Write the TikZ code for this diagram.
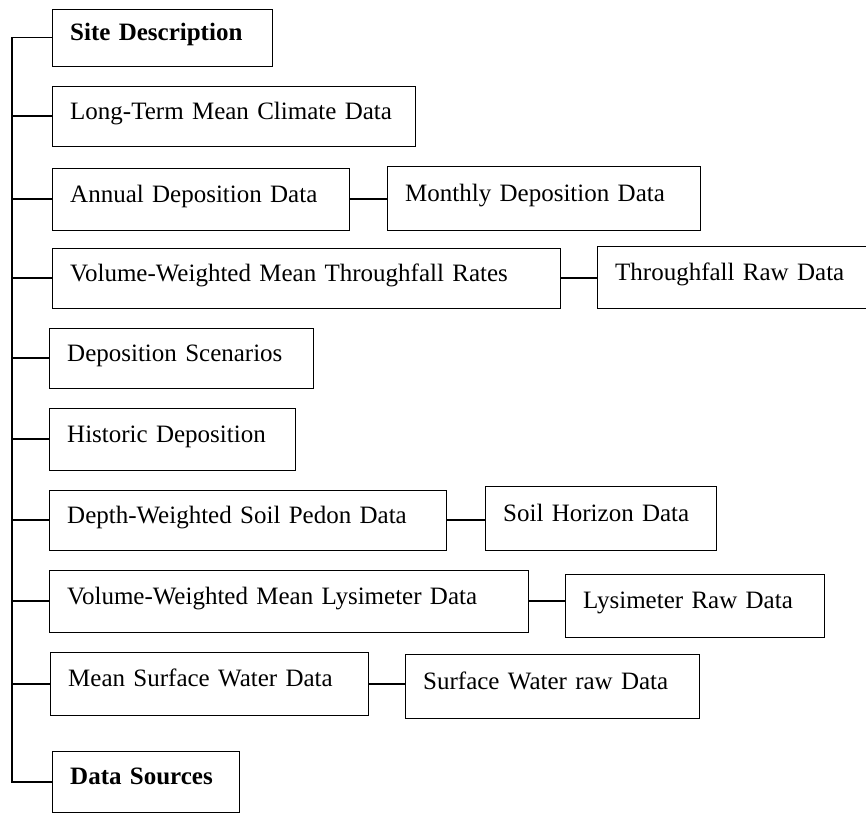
\documentclass[tikz,border=0pt]{standalone}
\usepackage{fontspec}
\setmainfont{Liberation Serif}
\usepackage{tikz}
\usetikzlibrary{positioning,calc}
\tikzset{
    x=1pt,y=-1pt,line width=1.6pt,
    box/.style ={rectangle, draw, anchor=north west, inner xsep=18pt, inner ysep=0pt,
                 align=left, text height=18pt, text depth=12pt,
                 font=\fontsize{25}{30}\selectfont},
    link/.style={line width=1.6pt}
}
\begin{document}
\begin{tikzpicture}
        \useasboundingbox (0,0) rectangle (866,813);
        \coordinate (trunk) at (12,0);

        \node[box, minimum height=57pt, text width=184pt] (site) at (52,9) {\textbf{Site Description}};
        \node[box, minimum height=60pt, text width=327pt] (climate) at (52,86) {Long-Term Mean Climate Data};
        \node[box, minimum height=62pt, text width=261pt] (annual) at (52,168) {Annual Deposition Data};
        \node[box, minimum height=64pt, text width=277pt] (monthly) at (387,166) {Monthly Deposition Data};
        \node[box, minimum height=60pt, text width=472pt] (throughmean) at (52,248) {Volume-Weighted Mean Throughfall Rates};
        \node[box, minimum height=62pt, text width=245pt] (throughraw) at (597,246) {Throughfall Raw Data};
        \node[box, minimum height=60pt, text width=228pt] (scenarios) at (49,328) {Deposition Scenarios};
        \node[box, minimum height=62pt, text width=210pt] (historic) at (49,408) {Historic Deposition};
        \node[box, minimum height=60pt, text width=361pt] (pedon) at (49,490) {Depth-Weighted Soil Pedon Data};
        \node[box, minimum height=64pt, text width=195pt] (horizon) at (485,486) {Soil Horizon Data};
        \node[box, minimum height=62pt, text width=443pt] (lysmean) at (49,570) {Volume-Weighted Mean Lysimeter Data};
        \node[box, minimum height=63pt, text width=223pt] (lysraw) at (565,574) {Lysimeter Raw Data};
        \node[box, minimum height=63pt, text width=282pt] (watermean) at (50,652) {Mean Surface Water Data};
        \node[box, minimum height=64pt, text width=258pt] (waterraw) at (405,654) {Surface Water raw Data};
        \node[box, minimum height=61pt, text width=151pt] (sources) at (52,751) {\textbf{Data Sources}};

        % main trunk
        \draw[link] (site.west) -- (site.west -| trunk) |- (sources.west);
        \foreach \n in {climate,annual,throughmean,scenarios,historic,pedon,lysmean,watermean}
            \draw[link] (\n.west) -- (\n.west -| trunk);

        % side links
        \draw[link] (annual.east) -- (annual.east -| monthly.west);
        \draw[link] (throughmean.east) -- (throughmean.east -| throughraw.west);
        \draw[link] (pedon.east) -- (pedon.east -| horizon.west);
        \draw[link] (lysmean.east) -- (lysmean.east -| lysraw.west);
        \draw[link] (watermean.east) -- (watermean.east -| waterraw.west);
    \end{tikzpicture}
\end{document}
